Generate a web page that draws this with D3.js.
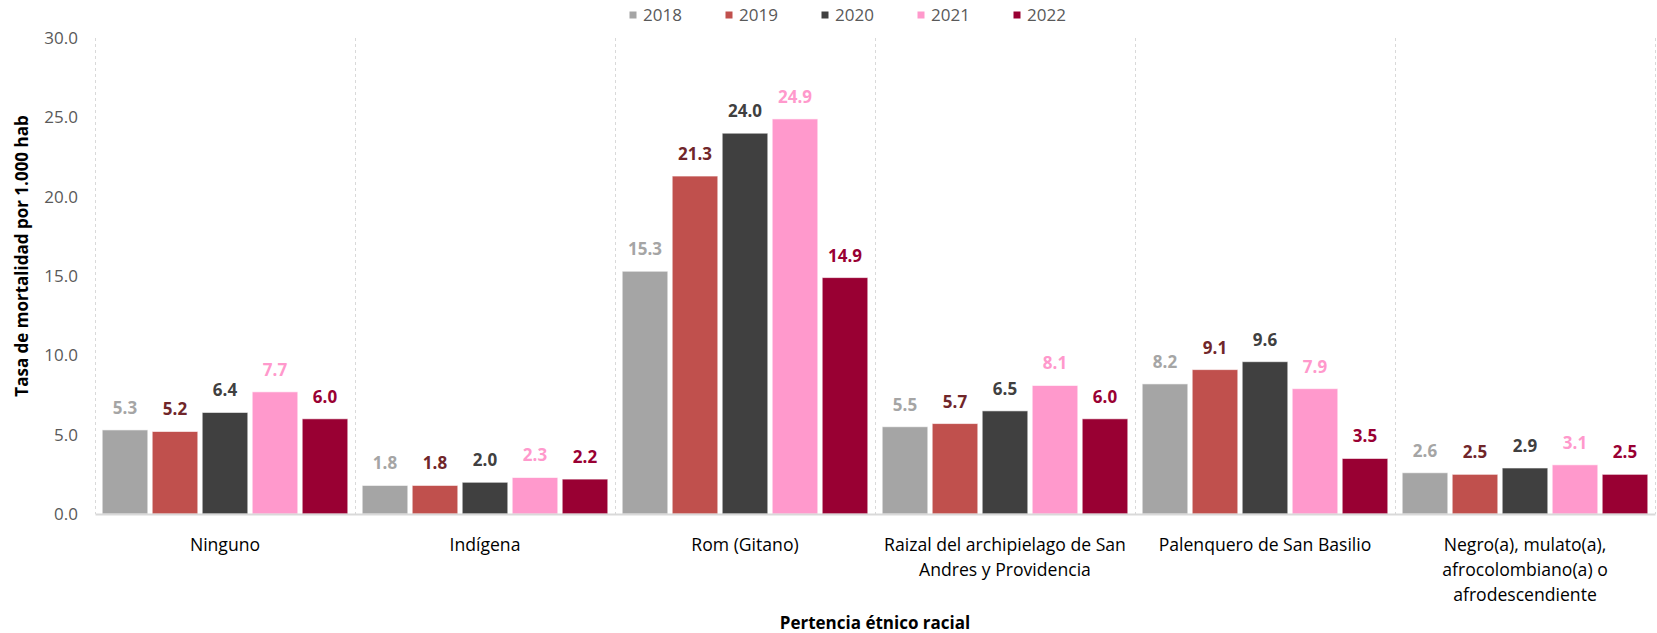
<!DOCTYPE html>
<html>
<head>
<meta charset="utf-8">
<script src="https://cdn.jsdelivr.net/npm/d3@7"></script>
<style>
  html, body { margin: 0; padding: 0; background: #fff; }
  svg { display: block; font-family: "Open Sans", "Noto Sans", sans-serif; }
</style>
</head>
<body>
<svg id="chart" width="1657" height="633"></svg>
<script>
const categories = [
  "Ninguno",
  "Indígena",
  "Rom (Gitano)",
  "Raizal del archipielago de San Andres y Providencia",
  "Palenquero de San Basilio",
  "Negro(a), mulato(a), afrocolombiano(a) o afrodescendiente"
];
const categoryLines = [
  ["Ninguno"],
  ["Indígena"],
  ["Rom (Gitano)"],
  ["Raizal del archipielago de San", "Andres y Providencia"],
  ["Palenquero de San Basilio"],
  ["Negro(a), mulato(a),", "afrocolombiano(a) o", "afrodescendiente"]
];
const years = ["2018", "2019", "2020", "2021", "2022"];
const values2018 = [5.3, 1.8, 15.3, 5.5, 8.2, 2.6];
const values2019 = [5.2, 1.8, 21.3, 5.7, 9.1, 2.5];
const values2020 = [6.4, 2.0, 24.0, 6.5, 9.6, 2.9];
const values2021 = [7.7, 2.3, 24.9, 8.1, 7.9, 3.1];
const values2022 = [6.0, 2.2, 14.9, 6.0, 3.5, 2.5];
const yTicks = [0, 5, 10, 15, 20, 25, 30];
const yTitle = "Tasa de mortalidad por 1.000 hab";
const xTitle = "Pertencia étnico racial";

const seriesValues = [values2018, values2019, values2020, values2021, values2022];
const barColors = ["#A5A5A5", "#C0504D", "#404040", "#FF99CC", "#990033"];
const labelColors = ["#A5A5A5", "#70262A", "#404040", "#FF99CC", "#990033"];

const svg = d3.select("#chart");
const plot = { left: 95, right: 1655, top: 38, bottom: 514 };

const x0 = d3.scaleBand().domain(categories).range([plot.left, plot.right]).paddingInner(0).paddingOuter(0);
const x1 = d3.scaleBand().domain(years).range([0, x0.bandwidth()]).paddingInner(0.088).paddingOuter(0.144);
const y = d3.scaleLinear().domain([0, 30]).range([plot.bottom, plot.top]);

// vertical dashed gridlines at category boundaries
const bounds = categories.map(c => x0(c)).concat([x0(categories[categories.length - 1]) + x0.bandwidth()]);
svg.append("g").selectAll("line").data(bounds).join("line")
  .attr("x1", d => d).attr("x2", d => d)
  .attr("y1", plot.top).attr("y2", plot.bottom)
  .attr("stroke", "#D9D9D9").attr("stroke-width", 1).attr("stroke-dasharray", "3,3")
  .attr("shape-rendering", "crispEdges");

// y axis tick labels
const yAxis = d3.axisLeft(y).tickValues(yTicks).tickFormat(d3.format(".1f")).tickSize(0).tickPadding(0);
const yg = svg.append("g").attr("transform", `translate(${78},0)`).call(yAxis);
yg.select(".domain").remove();
yg.selectAll("text").attr("font-size", 17).attr("fill", "#595959").attr("font-family", "Open Sans");

// bars
const data = [];
categories.forEach((c, i) => years.forEach((yr, j) => data.push({ c, yr, j, v: seriesValues[j][i] })));
const bars = svg.append("g");
bars.selectAll("rect").data(data).join("rect")
  .attr("x", d => x0(d.c) + x1(d.yr))
  .attr("width", x1.bandwidth())
  .attr("y", d => y(d.v))
  .attr("height", d => y(0) - y(d.v))
  .attr("fill", d => barColors[d.j])
  .attr("stroke", "#ffffff").attr("stroke-opacity", 0.6).attr("stroke-width", 1);

// value labels
svg.append("g").selectAll("text").data(data).join("text")
  .attr("x", d => x0(d.c) + x1(d.yr) + x1.bandwidth() / 2)
  .attr("y", d => y(d.v) - 22)
  .attr("dy", "0.35em")
  .attr("text-anchor", "middle")
  .attr("font-size", 17).attr("font-weight", "bold")
  .attr("fill", d => labelColors[d.j])
  .text(d => d3.format(".1f")(d.v));

// x axis baseline
const xAxis = d3.axisBottom(x0).tickSize(0).tickFormat("");
const xg = svg.append("g").attr("transform", `translate(0,${plot.bottom})`).call(xAxis);
xg.select(".domain").attr("stroke", "#D9D9D9").attr("stroke-width", 2);

// category labels
const catG = svg.append("g");
categories.forEach((c, i) => {
  const t = catG.append("text")
    .attr("x", x0(c) + x0.bandwidth() / 2)
    .attr("y", 546)
    .attr("text-anchor", "middle")
    .attr("font-size", 17.6).attr("fill", "#000");
  categoryLines[i].forEach((line, k) => {
    t.append("tspan").attr("x", x0(c) + x0.bandwidth() / 2)
      .attr("y", 545 + k * 25).attr("dy", "0.35em").text(line);
  });
});

// axis titles
svg.append("text").attr("x", 875).attr("y", 623).attr("dy", "0.35em")
  .attr("text-anchor", "middle").attr("font-size", 17).attr("font-weight", "bold").attr("fill", "#000")
  .text(xTitle);
svg.append("text").attr("transform", "translate(22,256) rotate(-90)").attr("dy", "0.35em")
  .attr("text-anchor", "middle").attr("font-size", 17).attr("font-weight", "bold").attr("fill", "#000")
  .text(yTitle);

// legend
const legend = svg.append("g");
years.forEach((yr, j) => {
  const lx = 633 + j * 96;
  legend.append("rect").attr("x", lx - 3.5).attr("y", 11.5).attr("width", 7).attr("height", 7).attr("fill", barColors[j]);
  legend.append("text").attr("x", lx + 10).attr("y", 15).attr("dy", "0.35em")
    .attr("font-size", 17).attr("fill", "#595959").text(yr);
});
</script>
</body>
</html>
